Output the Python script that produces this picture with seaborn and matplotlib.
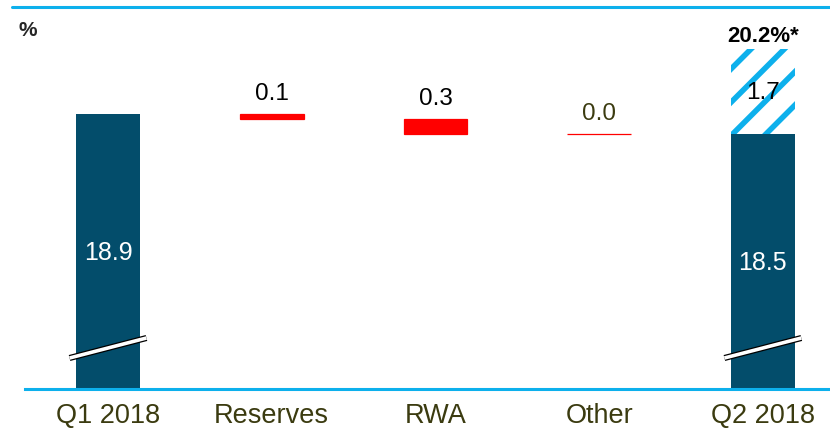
import matplotlib
matplotlib.use("Agg")
import matplotlib.pyplot as plt
import numpy as np
import pandas as pd
import seaborn as sns
from matplotlib.lines import Line2D

labels = ["Q1 2018", "Reserves", "RWA", "Other", "Q2 2018"]
total_labels = ["Q1 2018", "Q2 2018"]
total_values = [18.9, 18.5]
delta_labels = ["Reserves", "RWA", "Other"]
delta_values = [-0.1, -0.3, 0.0]
extra_label = "Q2 2018"
extra_value = 1.7
target_text = "20.2%*"

DARK = "#034d6b"
RED = "#ff0000"
BLUE = "#0db0ec"
OLIVE = "#3b3b10"

sns.set_style("white")
plt.rcParams["font.family"] = ["Liberation Sans", "DejaVu Sans"]
plt.rcParams["hatch.linewidth"] = 4.0

fig = plt.figure(figsize=(8.3, 4.31), dpi=100)
ax = fig.add_axes([25 / 830, 41 / 431, 805 / 830, 360 / 431])

totals = pd.DataFrame({"label": total_labels, "value": total_values})
sns.barplot(data=totals, x="label", y="value", order=labels, color=DARK,
            saturation=1, width=0.39, linewidth=0, ax=ax, zorder=2)

# running level for the waterfall steps
level = total_values[0]
bottoms, heights = [], []
for d in delta_values:
    new = level + d
    bottoms.append(min(level, new))
    heights.append(abs(d))
    level = new
deltas = pd.DataFrame({"label": delta_labels, "height": heights})
sns.barplot(data=deltas, x="label", y="height", order=labels, color=RED,
            saturation=1, width=0.39, bottom=np.array(bottoms),
            edgecolor=RED, linewidth=0.9, ax=ax, zorder=2)

extra = pd.DataFrame({"label": [extra_label], "value": [extra_value]})
sns.barplot(data=extra, x="label", y="value", order=labels, color="white",
            saturation=1, width=0.39, bottom=np.array([total_values[1]]),
            hatch="/", edgecolor=BLUE, linewidth=0, ax=ax, zorder=2)

ax.set_ylim(13.4, 20.6)
ax.set_xlim(-0.507, 4.41)
ax.set_xlabel("")
ax.set_ylabel("")
ax.set_yticks([])
ax.tick_params(axis="x", length=0, pad=9.5, labelsize=19.5, labelcolor=OLIVE)
for side in ["top", "left", "right"]:
    ax.spines[side].set_visible(False)
ax.spines["bottom"].set_color(BLUE)
ax.spines["bottom"].set_linewidth(2.2)
ax.spines["bottom"].set_zorder(5)

# value labels
for lab, val in zip(total_labels, total_values):
    i = labels.index(lab)
    ax.text(i, (13.4 + val) / 2, f"{val:.1f}", ha="center", va="center",
            color="white", fontsize=18, zorder=4)
for lab, b, h, d in zip(delta_labels, bottoms, heights, delta_values):
    i = labels.index(lab)
    col = OLIVE if d == 0 else "black"
    ax.annotate(f"{abs(d):.1f}", (i, b + h), xytext=(0, 7),
                textcoords="offset points", ha="center", va="bottom",
                color=col, fontsize=17.5)
i = labels.index(extra_label)
ax.text(i, total_values[1] + extra_value / 2, f"{extra_value:.1f}",
        ha="center", va="center", color="black", fontsize=17.5, zorder=4)
ax.annotate(target_text, (i, total_values[1] + extra_value), xytext=(0, 2),
            textcoords="offset points", ha="center", va="bottom",
            fontsize=16, fontweight="bold", color="black")

# axis break marks on the total bars
for lab in total_labels:
    i = labels.index(lab)
    xs = [i - 0.235, i + 0.235]
    ys = [14.02, 14.42]
    ax.plot(xs, ys, color="black", lw=4.4, solid_capstyle="butt",
            clip_on=False, zorder=6)
    ax.plot(xs, ys, color="white", lw=2.6, solid_capstyle="butt",
            clip_on=False, zorder=7)

fig.add_artist(Line2D([12 / 830, 1], [1 - 8 / 431, 1 - 8 / 431],
                      color=BLUE, lw=2.2))
fig.text(18 / 830, 1 - 30 / 431, "%", fontsize=15, fontweight="bold",
         ha="left", va="center")

fig.savefig("out.png", dpi=100)
